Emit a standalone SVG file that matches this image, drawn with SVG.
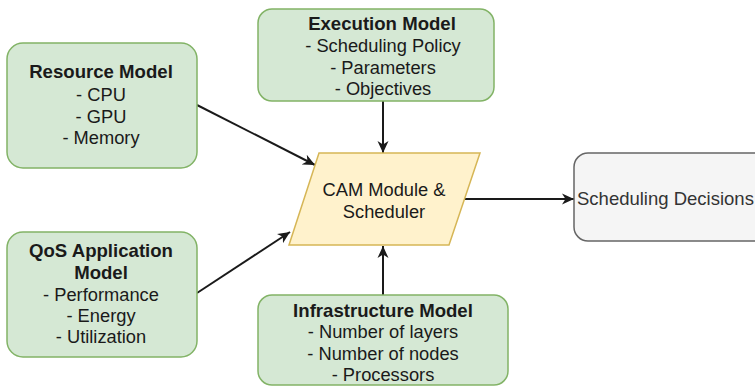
<svg xmlns="http://www.w3.org/2000/svg" width="755" height="388" viewBox="0 0 755 388">
  <style>
    .model { fill: #d5e8d4; stroke: #82b366; stroke-width: 1.5; }
    .proc { fill: #fff2cc; stroke: #d6b656; stroke-width: 1.5; }
    .out { fill: #f5f5f5; stroke: #666666; stroke-width: 1.5; }
    text { font-family: "Liberation Sans", Arial, Helvetica, sans-serif; font-size: 18.3px; fill: #1a1a1a; text-anchor: middle; }
    .title { font-weight: bold; font-size: 18.6px; }
    .edge { fill: none; stroke: #1a1a1a; stroke-width: 2; }
  </style>
  <defs>
    <marker id="arrow" markerUnits="userSpaceOnUse" markerWidth="14" markerHeight="12" refX="12" refY="6" orient="auto">
      <path d="M0,0.5 L12,6 L0,11.5 L3.5,6 Z" fill="#1a1a1a"/>
    </marker>
  </defs>
  <rect width="755" height="388" fill="#ffffff"/>

  <!-- connectors -->
  <g id="edges">
    <path class="edge" d="M197,105 L315,165" marker-end="url(#arrow)"/>
    <path class="edge" d="M197,293 L290,232" marker-end="url(#arrow)"/>
    <path class="edge" d="M383,101 L383,153" marker-end="url(#arrow)"/>
    <path class="edge" d="M383,295 L383,246" marker-end="url(#arrow)"/>
    <path class="edge" d="M463,199 L574,199" marker-end="url(#arrow)"/>
  </g>

  <g id="resource-model">
    <rect class="model" x="7" y="43" width="190" height="125" rx="16"/>
    <text class="title" x="101" y="78">Resource Model</text>
    <text x="101" y="101">- CPU</text>
    <text x="101" y="123">- GPU</text>
    <text x="101" y="144">- Memory</text>
  </g>

  <g id="execution-model">
    <rect class="model" x="258" y="9" width="236" height="92" rx="14"/>
    <text class="title" x="382" y="30">Execution Model</text>
    <text x="383" y="52">- Scheduling Policy</text>
    <text x="383" y="74">- Parameters</text>
    <text x="383" y="95">- Objectives</text>
  </g>

  <g id="qos-application-model">
    <rect class="model" x="7" y="232" width="190" height="125" rx="16"/>
    <text class="title" x="101" y="257">QoS Application</text>
    <text class="title" x="101" y="279">Model</text>
    <text x="101" y="301">- Performance</text>
    <text x="101" y="322">- Energy</text>
    <text x="101" y="343">- Utilization</text>
  </g>

  <g id="infrastructure-model">
    <rect class="model" x="258" y="295" width="250" height="90" rx="14"/>
    <text class="title" x="383" y="317">Infrastructure Model</text>
    <text x="383" y="338">- Number of layers</text>
    <text x="383" y="360">- Number of nodes</text>
    <text x="383" y="381">- Processors</text>
  </g>

  <g id="cam-scheduler">
    <polygon class="proc" points="319,153 480,153 449,245 289,245"/>
    <text x="384" y="196">CAM Module &amp;</text>
    <text x="384" y="218">Scheduler</text>
  </g>

  <g id="scheduling-decisions">
    <rect class="out" x="574" y="153" width="200" height="88" rx="14"/>
    <text x="577" y="205" style="text-anchor:start; fill:#333333; font-size:18.5px">Scheduling Decisions</text>
  </g>
</svg>
